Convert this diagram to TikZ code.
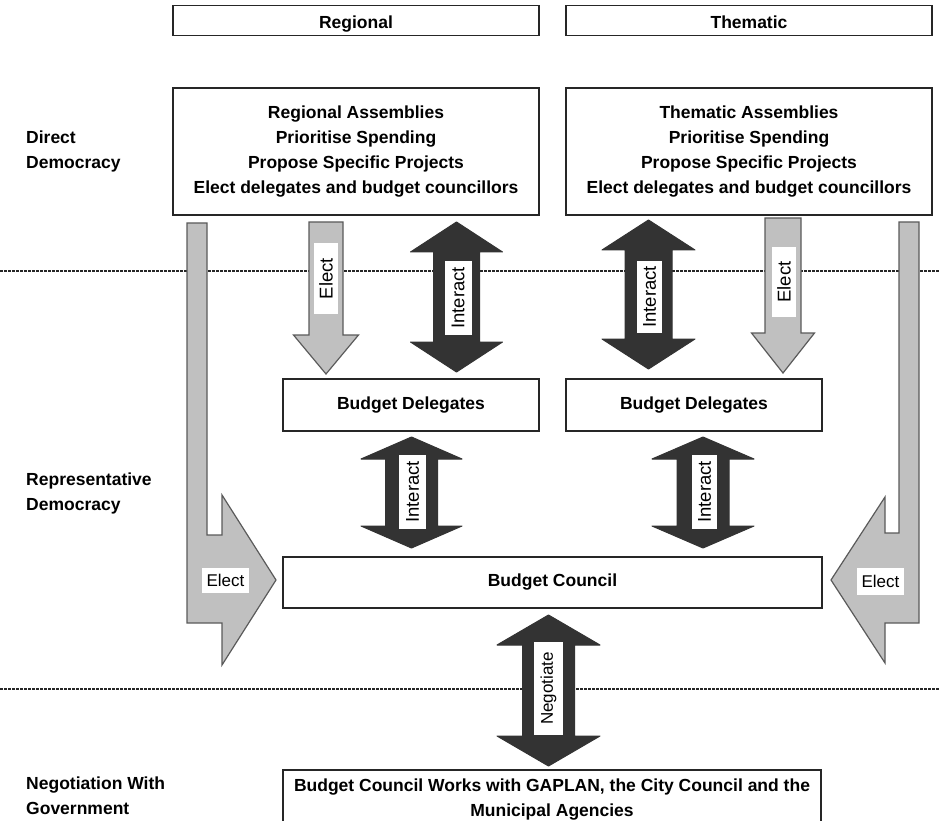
\documentclass[tikz,border=0pt]{standalone}
\usepackage{fontspec}
\setmainfont{Liberation Sans}

\definecolor{darkfill}{HTML}{333333}
\definecolor{palefill}{HTML}{C0C0C0}
\definecolor{edgegray}{HTML}{5A5A5A}

\tikzset{
  box/.style={draw=black!85, line width=1.2pt, fill=white, inner sep=0pt, align=center,
    font=\bfseries\fontsize{17.5}{25}\selectfont},
  side label/.style={anchor=north west, inner sep=0pt, align=left,
    font=\bfseries\fontsize{17.5}{25}\selectfont},
  upright tag/.style={fill=white, inner sep=0pt, rotate=90, font=\fontsize{18.5}{18.5}\selectfont},
  flat tag/.style={fill=white, inner sep=0pt, font=\fontsize{17}{17}\selectfont},
  dark arrow/.style={fill=darkfill, draw=darkfill, line width=1pt, line join=round},
  pale arrow/.style={fill=palefill, draw=edgegray, line width=1.2pt},
  level line/.style={draw=black!85, line width=1.2pt, dash pattern=on 2.5pt off 1.5pt}
}

% x, top tip, bottom tip, head length, shaft half width, head half width
\newcommand{\twoway}[6]{%
  \filldraw[dark arrow] (#1,#2) -- (#1+#6,#2+#4) -- (#1+#5,#2+#4) -- (#1+#5,#3-#4)
    -- (#1+#6,#3-#4) -- (#1,#3) -- (#1-#6,#3-#4) -- (#1-#5,#3-#4)
    -- (#1-#5,#2+#4) -- (#1-#6,#2+#4) -- cycle;}
% x, top, tip, head length, shaft half width, head half width
\newcommand{\oneway}[6]{%
  \filldraw[pale arrow] (#1-#5,#2) -- (#1+#5,#2) -- (#1+#5,#3-#4) -- (#1+#6,#3-#4)
    -- (#1,#3) -- (#1-#6,#3-#4) -- (#1-#5,#3-#4) -- cycle;}

\begin{document}
\begin{tikzpicture}[x=1pt,y=-1pt]
\useasboundingbox (0,0) rectangle (940,821);

% Level lines
\draw[level line] (0,271) -- (940,271);
\draw[level line] (0,689) -- (940,689);

% Big elect arrows
\filldraw[pale arrow] (187,223) -- (207,223) -- (207,535) -- (222,535) -- (222,495)
  -- (276,580) -- (222,665) -- (222,623) -- (187,623) -- cycle;
\filldraw[pale arrow] (919,222) -- (899,222) -- (899,533) -- (885,533) -- (885,497)
  -- (831,580) -- (885,663) -- (885,623) -- (919,623) -- cycle;

% Small elect arrows
\oneway{326}{222}{374}{39}{17}{32.5}
\oneway{783}{218}{373}{40}{18}{31.5}

% Interact and negotiate arrows
\twoway{456.5}{222}{372}{30}{23}{46}
\twoway{648.5}{220}{369}{30}{23.5}{46.5}
\twoway{411.5}{437}{548}{22}{26}{50.5}
\twoway{703}{437}{548}{22}{26}{51}
\twoway{548.5}{615}{766}{30}{26}{51.5}

% Boxes
\node[box, minimum width=366, minimum height=30, text height=21, text depth=5] (regional) at (356,20.5) {Regional};
\node[box, minimum width=366, minimum height=30, text height=21, text depth=5] (thematic) at (749,20.5) {Thematic};
\node[box, minimum width=366, minimum height=127] (regasm) at (356,151.5)
  {Regional Assemblies\\Prioritise Spending\\Propose Specific Projects\\Elect delegates and budget councillors};
\node[box, minimum width=366, minimum height=127] (themasm) at (749,151.5)
  {Thematic Assemblies\\Prioritise Spending\\Propose Specific Projects\\Elect delegates and budget councillors};
\node[box, minimum width=256, minimum height=52] (regdel) at (411,405) {Budget Delegates};
\node[box, minimum width=256, minimum height=52] (themdel) at (694,405) {Budget Delegates};
\node[box, minimum width=539, minimum height=51] (council) at (552.5,582.5) {Budget Council};
\node[box, minimum width=538, minimum height=60] (gov) at (552,800)
  {Budget Council Works with GAPLAN, the City Council and the\\Municipal Agencies};

% Level names
\node[side label] (direct) at (26,131) {Direct\\Democracy};
\node[side label] (repr) at (26,473) {Representative\\Democracy};
\node[side label] (nego) at (26,777) {Negotiation With\\Government};

% Arrow tags
\node[upright tag, minimum width=71, minimum height=24] (elect1) at (326,278.5) {Elect};
\node[upright tag, minimum width=73, minimum height=27] (int1) at (458,298) {Interact};
\node[upright tag, minimum width=72, minimum height=25] (int2) at (649.5,297) {Interact};
\node[upright tag, minimum width=70, minimum height=24] (elect2) at (784,282) {Elect};
\node[upright tag, minimum width=74, minimum height=27] (int3) at (412.5,492) {Interact};
\node[upright tag, minimum width=74, minimum height=25] (int4) at (704.5,492) {Interact};
\node[upright tag, minimum width=93, minimum height=29, font=\fontsize{17}{17}\selectfont] (negtag) at (548.5,688.5) {Negotiate};
\node[flat tag, minimum width=47, minimum height=25] (elect3) at (225.5,580.5) {Elect};
\node[flat tag, minimum width=47, minimum height=27] (elect4) at (880.5,581.5) {Elect};

\end{tikzpicture}
\end{document}
